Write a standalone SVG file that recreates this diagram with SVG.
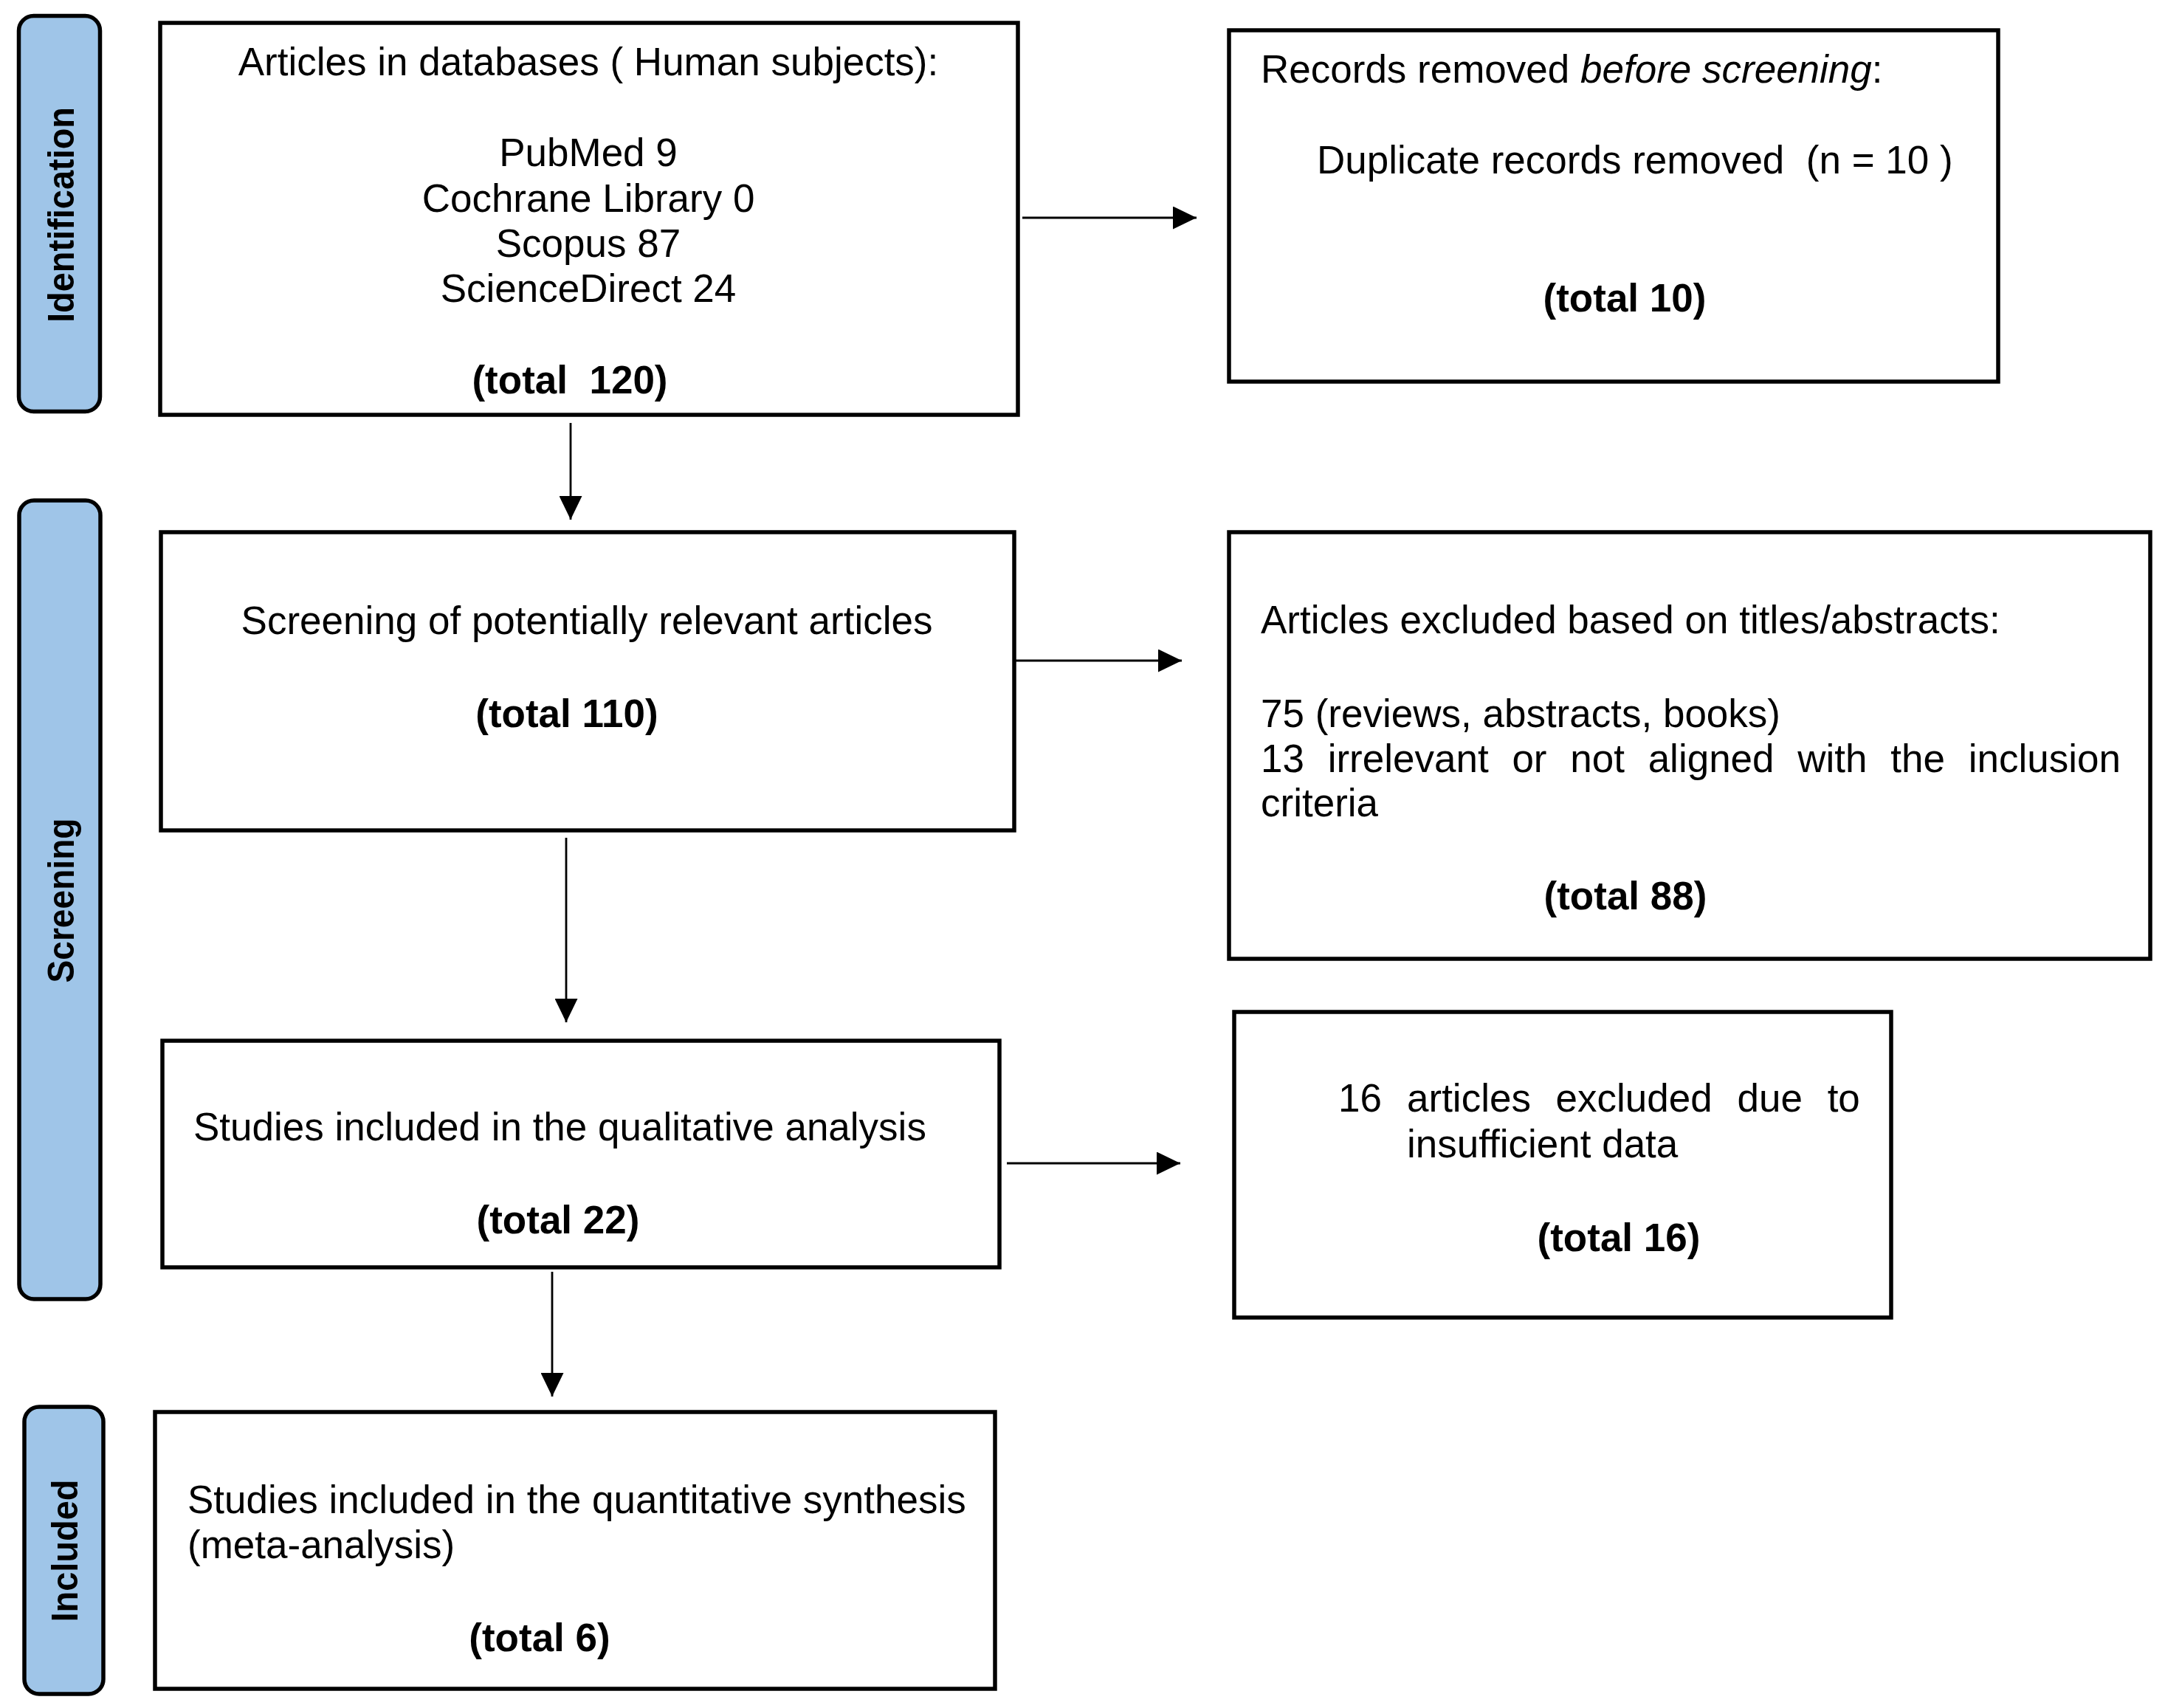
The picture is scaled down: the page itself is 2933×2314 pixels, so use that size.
<svg xmlns="http://www.w3.org/2000/svg" width="2933" height="2314" viewBox="0 0 2933 2314">
<style>
.box{fill:#ffffff;stroke:#000000;stroke-width:5.5}
.bar{fill:#9fc5e8;stroke:#000000;stroke-width:5.5}
.t{font-family:"Liberation Sans",Arial,sans-serif;font-size:53px;fill:#000000;white-space:pre}
.b{font-weight:bold}
.m{text-anchor:middle}
.side{font-family:"Liberation Sans",Arial,sans-serif;font-size:50px;font-weight:bold;fill:#000000;text-anchor:middle}
.conn{stroke:#000000;stroke-width:2.8;fill:none}
</style>
<defs>
<marker id="ah" markerUnits="userSpaceOnUse" viewBox="0 0 32 31" refX="32" refY="15.5" markerWidth="32" markerHeight="31" orient="auto">
<path d="M0,0 L32,15.5 L0,31 Z" fill="#000000"/>
</marker>
</defs>
<rect width="2933" height="2314" fill="#ffffff"/>
<g id="stage-identification">
<rect class="bar" x="25.5" y="21.5" width="110" height="536" rx="20" ry="20"/>
<text class="side" transform="translate(100,291) rotate(-90)" textLength="292" lengthAdjust="spacingAndGlyphs">Identification</text>
</g>
<g id="stage-screening">
<rect class="bar" x="26" y="678" width="110" height="1082" rx="20" ry="20"/>
<text class="side" transform="translate(100,1220) rotate(-90)" textLength="223" lengthAdjust="spacingAndGlyphs">Screening</text>
</g>
<g id="stage-included">
<rect class="bar" x="33" y="1906" width="107" height="389" rx="20" ry="20"/>
<text class="side" transform="translate(105,2101) rotate(-90)" textLength="193" lengthAdjust="spacingAndGlyphs">Included</text>
</g>
<g id="connectors">
<path class="conn" d="M1385,295 L1621,295" marker-end="url(#ah)"/>
<path class="conn" d="M773,573 L773,704" marker-end="url(#ah)"/>
<path class="conn" d="M1368,895 L1601,895" marker-end="url(#ah)"/>
<path class="conn" d="M767,1135 L767,1385" marker-end="url(#ah)"/>
<path class="conn" d="M1364,1576 L1599,1576" marker-end="url(#ah)"/>
<path class="conn" d="M748,1723 L748,1892" marker-end="url(#ah)"/>
</g>
<g id="node-databases">
<rect class="box" x="217" y="31" width="1162" height="531"/>
<text class="t m" x="797" y="102">Articles in databases ( Human subjects):</text>
<text class="t m" x="797" y="225">PubMed 9</text>
<text class="t m" x="797" y="287">Cochrane Library 0</text>
<text class="t m" x="797" y="348">Scopus 87</text>
<text class="t m" x="797" y="409">ScienceDirect 24</text>
<text class="t b m" x="772" y="533">(total  120)</text>
</g>
<g id="node-removed">
<rect class="box" x="1665" y="41" width="1042" height="476"/>
<text class="t" x="1708" y="112">Records removed <tspan font-style="italic">before screening</tspan>:</text>
<text class="t" x="1784" y="235">Duplicate records removed  (n = 10 )</text>
<text class="t b m" x="2201" y="422">(total 10)</text>
</g>
<g id="node-screening">
<rect class="box" x="218" y="721" width="1156" height="404"/>
<text class="t m" x="795" y="859">Screening of potentially relevant articles</text>
<text class="t b m" x="768" y="985">(total 110)</text>
</g>
<g id="node-excluded-titles">
<rect class="box" x="1665" y="721" width="1248" height="578"/>
<text class="t" x="1708" y="858">Articles excluded based on titles/abstracts:</text>
<text class="t" x="1708" y="985">75 (reviews, abstracts, books)</text>
<text class="t" x="1708" y="1046" word-spacing="17">13 irrelevant or not aligned with the inclusion</text>
<text class="t" x="1708" y="1106">criteria</text>
<text class="t b m" x="2202" y="1232">(total 88)</text>
</g>
<g id="node-qualitative">
<rect class="box" x="220" y="1410" width="1134" height="307"/>
<text class="t" x="262" y="1545">Studies included in the qualitative analysis</text>
<text class="t b m" x="756" y="1671">(total 22)</text>
</g>
<g id="node-excluded-data">
<rect class="box" x="1672" y="1371" width="890" height="414"/>
<text class="t" x="1813" y="1506">16</text>
<text class="t" x="1906" y="1506" word-spacing="19">articles excluded due to</text>
<text class="t" x="1906" y="1568">insufficient data</text>
<text class="t b m" x="2193" y="1695">(total 16)</text>
</g>
<g id="node-quantitative">
<rect class="box" x="210" y="1913" width="1138" height="375"/>
<text class="t" x="254" y="2050">Studies included in the quantitative synthesis</text>
<text class="t" x="254" y="2111">(meta-analysis)</text>
<text class="t b m" x="731" y="2237">(total 6)</text>
</g>
</svg>
